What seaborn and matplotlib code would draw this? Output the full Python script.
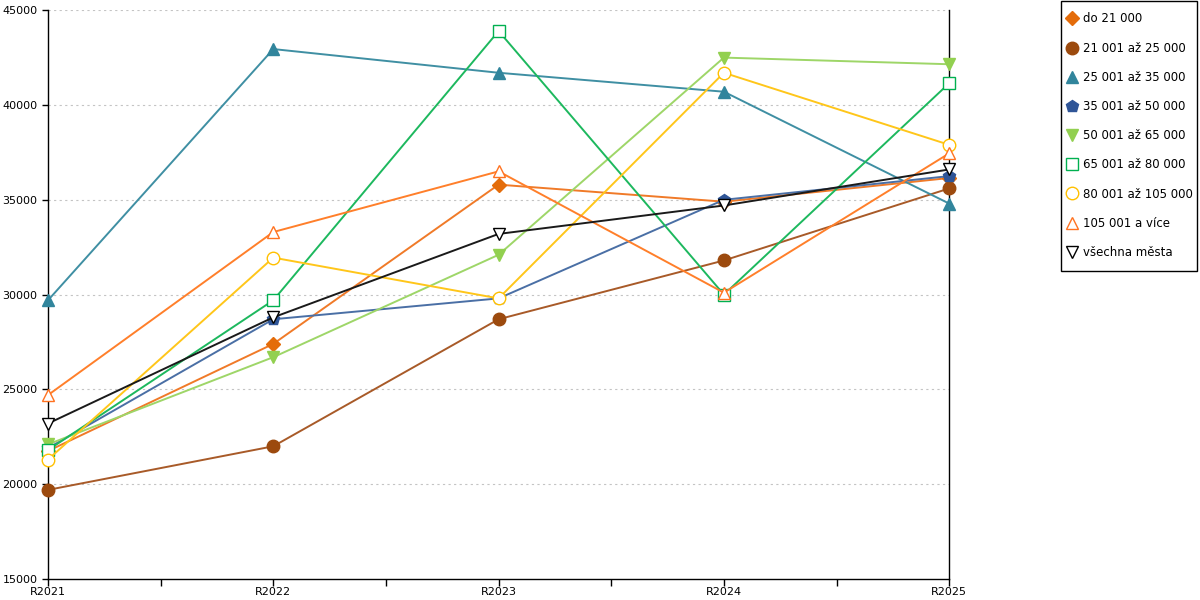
import matplotlib
matplotlib.use("Agg")
import matplotlib.pyplot as plt
from matplotlib.lines import Line2D
from matplotlib.patches import Rectangle
from matplotlib.ticker import MultipleLocator
import seaborn as sns
import pandas as pd

years = ["R2021", "R2022", "R2023", "R2024", "R2025"]

groups = ["do 21 000", "21 001 až 25 000", "25 001 až 35 000", "35 001 až 50 000",
          "50 001 až 65 000", "65 001 až 80 000", "80 001 až 105 000",
          "105 001 a více", "všechna města"]

do_21000 = [21750, 27400, 35800, 34900, 36150]
od_21001 = [19700, 22000, 28700, 31800, 35600]
od_25001 = [29700, 42950, 41700, 40700, 34800]
od_35001 = [21900, 28700, 29800, 35000, 36250]
od_50001 = [22100, 26700, 32100, 42500, 42150]
od_65001 = [21800, 29700, 43900, 30000, 41150]
od_80001 = [21300, 31950, 29800, 41700, 37900]
od_105001 = [24700, 33300, 36500, 30100, 37450]
vsechna = [23200, 28800, 33200, 34700, 36600]

series = [do_21000, od_21001, od_25001, od_35001, od_50001,
          od_65001, od_80001, od_105001, vsechna]

colors = ["#E46C0A", "#9C4A0E", "#31859C", "#2F5597", "#92D050",
          "#00B050", "#FFC000", "#FF7220", "#000000"]
line_colors = ["#F07A28", "#A85A28", "#3F8FA3", "#4A6FA5", "#9ED668",
               "#1DB85E", "#FFC61A", "#FF7F2A", "#1A1A1A"]
markers = ["D", "o", "^", "p", "v", "s", "o", "^", "v"]
filled = [True, True, True, True, True, False, False, False, False]
msizes = [7, 9, 9, 9, 9, 9, 9, 9, 9]

plt.rcParams["font.family"] = ["DejaVu Sans"]

W, H = 1200, 600
fig = plt.figure(figsize=(12, 6), dpi=100)
ax = fig.add_axes([0.04, 0.035, 0.751, 0.948])

for name, vals, c, lc, m, f, ms in zip(groups, series, colors, line_colors, markers, filled, msizes):
    df = pd.DataFrame({"rok": years, "hodnota": vals})
    sns.lineplot(data=df, x="rok", y="hodnota", ax=ax, color=lc, linewidth=1.4,
                 marker=m, markersize=ms, markeredgecolor=c,
                 markerfacecolor=c if f else "white", markeredgewidth=1.0,
                 sort=False, legend=False, clip_on=False, zorder=3)

ax.set_xlim(0, 4)
ax.set_ylim(15000, 45000)
ax.yaxis.set_major_locator(MultipleLocator(5000))
ax.set_xticks(range(len(years)))
ax.set_xticklabels(years)
ax.set_xticks([0.5, 1.5, 2.5, 3.5], minor=True)
ax.tick_params(axis="x", which="both", direction="out", length=5, width=1, labelsize=8, pad=1)
ax.tick_params(axis="y", direction="out", length=4.5, width=1, labelsize=8, pad=3)
ax.set_xlabel("")
ax.set_ylabel("")

for y in range(20000, 45001, 5000):
    ax.axhline(y, color="#C4C4C4", linestyle=(0, (2, 3)), linewidth=0.8, zorder=0)

ax.spines["top"].set_visible(False)
for s in ["left", "bottom", "right"]:
    ax.spines[s].set_color("black")
    ax.spines[s].set_linewidth(1)
    ax.spines[s].set_zorder(2.5)

# legend box drawn separately so the padding matches the original
fig.patches.append(Rectangle((1061 / W, 1 - 270.5 / H), 136 / W, 269.5 / H,
                             transform=fig.transFigure, fill=False,
                             edgecolor="black", linewidth=1))

handles = [Line2D([], [], linestyle="none", marker=m, markersize=ms,
                  markeredgecolor=c, markerfacecolor=c if f else "white")
           for c, m, f, ms in zip(colors, markers, filled, msizes)]
leg = fig.legend(handles, groups, loc="upper left", bbox_to_anchor=(1067 / W, 1 - 12.5 / H),
                 frameon=False, fontsize=8.5, handlelength=0.8,
                 handletextpad=0.53, labelspacing=1.37, borderpad=0, borderaxespad=0)

fig.savefig("out.png", dpi=100)
